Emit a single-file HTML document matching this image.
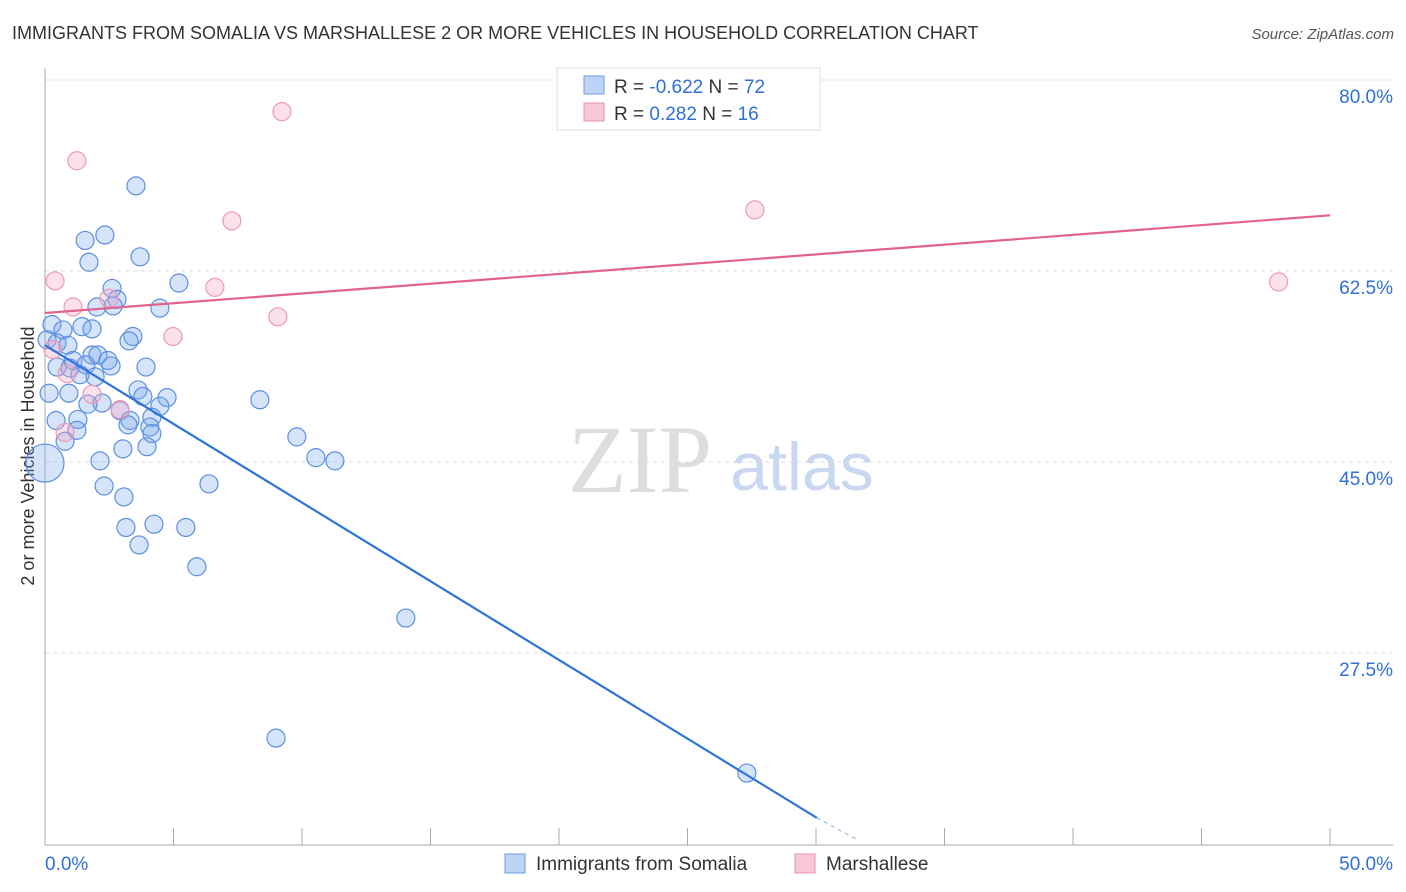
<!DOCTYPE html>
<html><head><meta charset="utf-8"><style>
body{margin:0;background:#fff;font-family:"Liberation Sans",sans-serif;}
svg{display:block}
</style></head><body>
<svg width="1406" height="892" id="chart">
<text x="12" y="39" font-size="18" fill="#333">IMMIGRANTS FROM SOMALIA VS MARSHALLESE 2 OR MORE VEHICLES IN HOUSEHOLD CORRELATION CHART</text>
<text x="1394" y="39" font-size="15" fill="#555" font-style="italic" text-anchor="end">Source: ZipAtlas.com</text>
<text x="640" y="492" font-size="96" fill="#ddd" font-family="Liberation Serif" text-anchor="middle">ZIP</text>
<text x="802" y="490" font-size="68" fill="#c9d8f0" text-anchor="middle">atlas</text>
<text transform="translate(34,456) rotate(-90)" font-size="18" fill="#333" text-anchor="middle">2 or more Vehicles in Household</text>
<g id="grid"></g><g id="marks"></g>
<g>
<rect x="557" y="68" width="263" height="62" fill="#fff" stroke="#ddd"/>
<rect x="584" y="76" width="20" height="18" fill="#bcd4f5" stroke="#6a9be0"/>
<rect x="584" y="103" width="20" height="18" fill="#f8c8d6" stroke="#e890ac"/>
<text x="614" y="93" font-size="19" fill="#333">R = <tspan fill="#2f6fd6">-0.622</tspan>   N = <tspan fill="#2f6fd6">72</tspan></text>
<text x="614" y="120" font-size="19" fill="#333">R =   <tspan fill="#2f6fd6">0.282</tspan>   N =  <tspan fill="#2f6fd6">16</tspan></text>
</g>
<g>
<rect x="505" y="854" width="20" height="19" fill="#bcd4f5" stroke="#6a9be0"/>
<text x="536" y="870" font-size="19" fill="#333">Immigrants from Somalia</text>
<rect x="795" y="854" width="20" height="19" fill="#f8c8d6" stroke="#e890ac"/>
<text x="826" y="870" font-size="19" fill="#333">Marshallese</text>
</g>
</svg>
<script>
const yTicks=[80,62.5,45,27.5];
const xTickLabels=["0.0%","50.0%"];
const blueX=[3.54,1.56,2.33,3.70,1.71,5.21,2.61,2.80,2.02,2.65,4.47,0.27,1.44,0.70,1.83,3.42,3.27,0.08,0.47,0.89,1.83,2.06,2.45,1.09,1.59,2.57,3.93,0.47,0.97,1.36,1.95,0.16,3.62,3.81,4.75,0.93,2.22,1.67,4.47,8.36,2.92,4.16,3.31,1.28,0.43,3.23,1.24,4.08,4.16,0.78,9.80,3.03,3.97,0.0,2.14,10.54,11.28,2.30,6.38,3.07,3.15,4.24,5.48,3.66,5.91,14.04,8.99,27.31];
const blueY=[70.3,65.3,65.8,63.8,63.3,61.4,60.9,59.9,59.2,59.3,59.1,57.6,57.4,57.1,57.2,56.5,56.1,56.2,55.9,55.7,54.8,54.8,54.3,54.3,53.9,53.8,53.7,53.7,53.6,53.0,52.8,51.3,51.6,51.0,50.9,51.3,50.4,50.3,50.1,50.7,49.7,49.1,48.8,48.9,48.8,48.4,47.9,48.2,47.6,46.9,47.3,46.2,46.4,44.9,45.1,45.4,45.1,42.8,43.0,41.8,39.0,39.3,39.0,37.4,35.4,30.7,19.7,16.5];
const pinkX=[0.39,1.24,9.22,7.27,1.09,6.61,2.49,9.06,4.98,0.31,0.86,2.92,0.78,27.62,48.00,1.83];
const pinkY=[61.6,72.6,77.1,67.1,59.2,61.0,60.0,58.3,56.5,55.3,53.1,49.8,47.7,68.1,61.5,51.2];
const blueTrend=[[0,55.7],[30.03,12.4]];
const blueDash=[[30.03,12.4],[31.6,10.4]];
const pinkTrend=[[0,58.65],[50,67.6]];
const X=v=>45+v*25.7, Y=v=>80+(80-v)*10.914;
const NS="http://www.w3.org/2000/svg";
const grid=document.getElementById('grid'), marks=document.getElementById('marks');
function mk(tag,at,parent){const e=document.createElementNS(NS,tag);for(const k in at)e.setAttribute(k,at[k]);parent.appendChild(e);return e;}
yTicks.forEach(v=>{
 const l=mk('line',{x1:45,x2:1393,y1:Y(v),y2:Y(v),stroke:'#ddd','stroke-dasharray':'4,4'},grid);
 
 
 const t=mk('text',{x:1393,y:Y(v)+23,'font-size':19,fill:'#2f6fd6','text-anchor':'end'},grid);
 t.textContent=v.toFixed(1)+'%';
 
 
});
const ax=mk('line',{x1:45,x2:45,y1:68,y2:845,stroke:'#aaa'},grid);


const bx=mk('line',{x1:45,x2:1393,y1:845,y2:845,stroke:'#aaa'},grid);


for(let i=0;i<=10;i++){const t=mk('line',{x1:X(i*5),x2:X(i*5),y1:828,y2:845,stroke:'#aaa'},grid);
 
 }
const xl0=mk('text',{x:45,y:870,'font-size':19,fill:'#2f6fd6'},grid);xl0.textContent=xTickLabels[0];


const xl1=mk('text',{x:1393,y:870,'font-size':19,fill:'#2f6fd6','text-anchor':'end'},grid);xl1.textContent=xTickLabels[1];


blueX.forEach((x,i)=>{const c=mk('circle',{cx:X(x),cy:Y(blueY[i]),r:(x===0?19:9),fill:'rgba(120,165,235,0.3)',stroke:'#5b8fe0','stroke-width':1.2},marks);
 
 });
pinkX.forEach((x,i)=>{const c=mk('circle',{cx:X(x),cy:Y(pinkY[i]),r:9,fill:'rgba(245,170,195,0.35)',stroke:'#eb9ab5','stroke-width':1.2},marks);
 
 });
const bl=mk('line',{x1:X(blueTrend[0][0]),y1:Y(blueTrend[0][1]),x2:X(blueTrend[1][0]),y2:Y(blueTrend[1][1]),stroke:'#2f74d9','stroke-width':2.2},marks);


const bd=mk('line',{x1:X(blueDash[0][0]),y1:Y(blueDash[0][1]),x2:X(blueDash[1][0]),y2:Y(blueDash[1][1]),stroke:'#9bb8e6','stroke-width':1.2,'stroke-dasharray':'4,4'},marks);


const pl=mk('line',{x1:X(pinkTrend[0][0]),y1:Y(pinkTrend[0][1]),x2:X(pinkTrend[1][0]),y2:Y(pinkTrend[1][1]),stroke:'#e2628f','stroke-width':2.2},marks);


</script>
</body></html>
